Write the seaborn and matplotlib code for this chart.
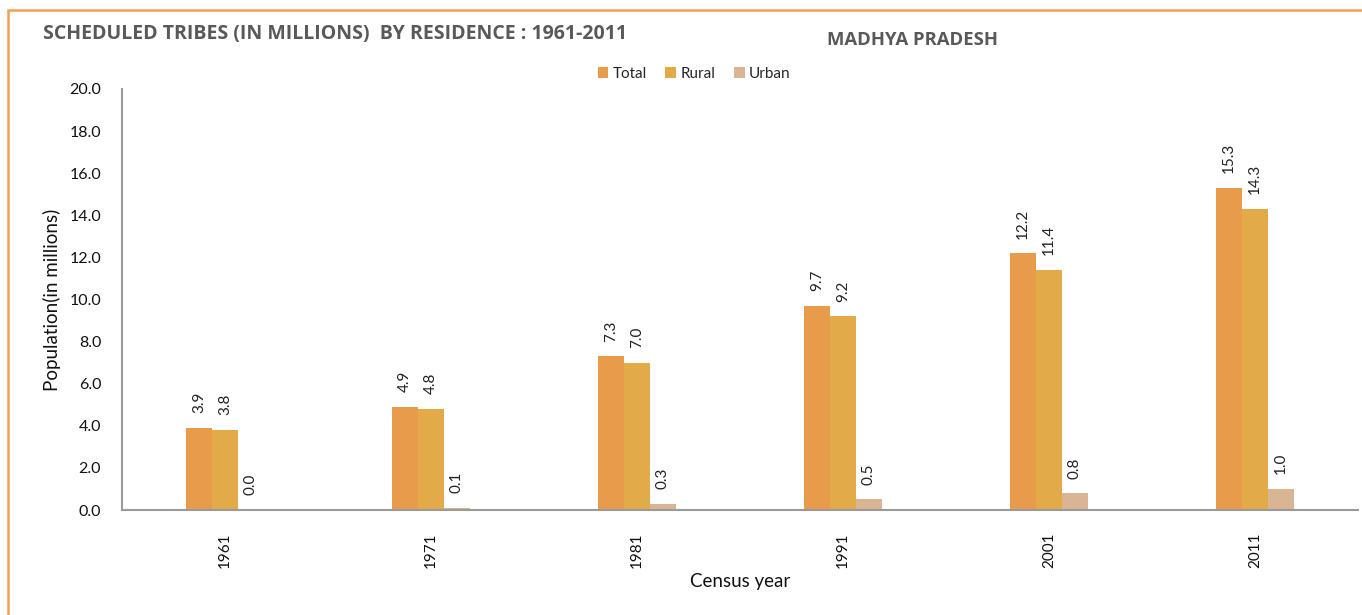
import matplotlib
matplotlib.use("Agg")
import matplotlib.pyplot as plt
import seaborn as sns
import pandas as pd
from matplotlib.patches import Rectangle
from matplotlib.ticker import FormatStrFormatter

# Scheduled Tribes population of Madhya Pradesh, in millions
years = ["1961", "1971", "1981", "1991", "2001", "2011"]
total = [3.9, 4.9, 7.3, 9.7, 12.2, 15.3]
rural = [3.8, 4.8, 7.0, 9.2, 11.4, 14.3]
urban = [0.0, 0.1, 0.3, 0.5, 0.8, 1.0]
series = ["Total", "Rural", "Urban"]
colors = ["#E99B4C", "#E3AB48", "#D9B594"]

df = pd.DataFrame({
    "year": years * 3,
    "value": total + rural + urban,
    "series": [s for s in series for _ in years],
})

sns.set_style("white")
plt.rcParams["font.family"] = ["Lato", "DejaVu Sans"]

fig = plt.figure(figsize=(13.62, 6.15), dpi=100)
ax = fig.add_axes([0.0896, 0.1707, 0.9074, 0.6846])

sns.barplot(data=df, x="year", y="value", hue="series", hue_order=series,
            palette=colors, width=0.375, saturation=1, ax=ax, errorbar=None,
            linewidth=0)

for cont in ax.containers:
    ax.bar_label(cont, fmt="%.1f", rotation=90, padding=10.5, fontsize=11,
                 color="#222222")

ax.set_ylim(0, 20)
ax.set_yticks(range(0, 21, 2))
ax.yaxis.set_major_formatter(FormatStrFormatter("%.1f"))
ax.tick_params(axis="both", length=0, labelsize=11.5, colors="#111111")
ax.tick_params(axis="y", pad=15)
ax.tick_params(axis="x", pad=16, labelsize=11)
plt.setp(ax.get_xticklabels(), rotation=90)

for side in ["top", "right"]:
    ax.spines[side].set_visible(False)
for side in ["left", "bottom"]:
    ax.spines[side].set_color("#9A9A9A")
    ax.spines[side].set_linewidth(1.5)

ax.set_xlabel("Census year", fontsize=13.5, color="#111111", labelpad=3.5)
ax.set_ylabel("Population(in millions)", fontsize=13.5, color="#111111", labelpad=6)

leg = ax.legend(loc="lower center", bbox_to_anchor=(0.463, 1.005), ncol=3,
                frameon=False, fontsize=11, handlelength=0.7, handleheight=0.7,
                handletextpad=0.3, columnspacing=1.2, borderaxespad=0)

fig.text(0.0316, 0.945, "SCHEDULED TRIBES (IN MILLIONS)  BY RESIDENCE : 1961-2011",
         fontsize=14, fontweight="bold", color="#595959",
         family=["Open Sans", "DejaVu Sans"], va="center", ha="left")
fig.text(0.6075, 0.935, "MADHYA PRADESH", fontsize=13.3, fontweight="bold",
         color="#595959", family=["Open Sans", "DejaVu Sans"], va="center", ha="left")

# orange frame around the chart area
fig.patches.append(Rectangle((8 / 1362, -0.05), 1.2, (1 - 10 / 615) + 0.05,
                             transform=fig.transFigure, fill=False,
                             edgecolor="#F5A04E", linewidth=1.8, zorder=0))

fig.savefig("out.png", dpi=100)
